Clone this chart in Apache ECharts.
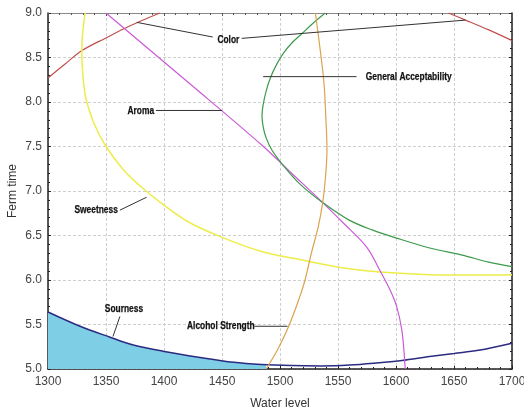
<!DOCTYPE html>
<html>
<head>
<meta charset="utf-8">
<script src="https://cdn.jsdelivr.net/npm/echarts@6/dist/echarts.min.js"></script>
<style>
html,body{margin:0;padding:0;background:#fff;}
#chart{width:524px;height:411px;}
</style>
</head>
<body>
<div id="chart"></div>
<script>
// ---- data (Water level, Ferm time) ----
var xTicks = [1300, 1350, 1400, 1450, 1500, 1550, 1600, 1650, 1700];
var yTicks = [5.0, 5.5, 6.0, 6.5, 7.0, 7.5, 8.0, 8.5, 9.0];

var colorArcA = [[1300,8.27],[1315,8.43],[1329,8.576],[1350,8.72],[1365,8.82],[1380,8.91],[1396.5,9.0]];
var colorArcB = [[1645,9.0],[1660,8.92],[1680,8.81],[1700,8.69]];

var sweetness = [[1332,9.0],[1330.5,8.85],[1329.5,8.7],[1329.2,8.55],[1329.8,8.35],[1331,8.18],[1333,8.02],[1340,7.75],[1350,7.5],[1365,7.24],[1380,7.05],[1396,6.88],[1420,6.66],[1448,6.49],[1484,6.32],[1517,6.23],[1552,6.14],[1586,6.09],[1629,6.06],[1665,6.055],[1700,6.06]];

var aroma = [[1350,9.0],[1420,8.23],[1484,7.52],[1510,7.2],[1536.8,6.87],[1554.6,6.64],[1574.7,6.37],[1586,6.11],[1594.8,5.89],[1600.6,5.70],[1605,5.44],[1607,5.18],[1607.8,5.03],[1608,5.0]];

var acceptability = [[1539,9.0],[1528,8.88],[1519,8.77],[1510,8.66],[1503,8.55],[1497,8.42],[1492,8.28],[1488,8.12],[1485.5,7.97],[1484.5,7.85],[1485.5,7.72],[1488,7.6],[1493,7.46],[1502,7.3],[1517,7.08],[1536.8,6.87],[1560,6.67],[1580,6.56],[1600.6,6.47],[1629,6.36],[1657,6.28],[1680,6.2],[1700,6.15]];

var alcohol = [[1530.5,9.0],[1534.7,8.58],[1538,8.2],[1539.5,7.83],[1540.5,7.46],[1539,7.12],[1536.8,6.87],[1533,6.6],[1527,6.30],[1521.6,6.0],[1517,5.81],[1507.5,5.48],[1498,5.22],[1490,5.04],[1488,5.0]];

var sourness = [[1300,5.64],[1327.6,5.48],[1353,5.36],[1373.5,5.27],[1399,5.20],[1431,5.13],[1460,5.075],[1484,5.05],[1510,5.038],[1535,5.035],[1560,5.045],[1585,5.07],[1605,5.095],[1629,5.14],[1650,5.175],[1671,5.21],[1700,5.29]];
var sournessFill = [[1300,5.64],[1327.6,5.48],[1353,5.36],[1373.5,5.27],[1399,5.20],[1431,5.13],[1460,5.075],[1484,5.05],[1488,5.048]];

var labelNames = ['Color','General Acceptability','Aroma','Sweetness','Sourness','Alcohol Strength'];

var chart = echarts.init(document.getElementById('chart'));
var lblFont = 'Liberation Sans, Arial';
var axFont = 'Liberation Sans, Arial';

function lineSeries(name, data, color, extra) {
  var s = {
    type: 'line', name: name, data: data, showSymbol: false, symbol: 'none',
    smooth: 0.35, lineStyle: {color: color, width: 1.2}, z: 3, silent: true
  };
  if (extra) for (var k in extra) s[k] = extra[k];
  return s;
}

chart.setOption({
  animation: false,
  backgroundColor: '#fff',
  grid: {left: 48, right: 12, top: 13, bottom: 42, outerBoundsMode: 'none', containLabel: false},
  xAxis: [{
    type: 'value', min: 1300, max: 1700, interval: 50,
    name: 'Water level', nameLocation: 'middle', nameGap: 29,
    nameTextStyle: {color: '#333', fontSize: 12, fontFamily: axFont},
    axisLine: {show: true, onZero: false, lineStyle: {color: '#222', width: 1.5}},
    axisTick: {show: true, inside: true, length: 3, lineStyle: {color: '#222'}},
    minorTick: {show: true, splitNumber: 5, length: 2, lineStyle: {color: '#222'}},
    axisLabel: {color: '#444', fontSize: 12, margin: 7, fontFamily: axFont,
      formatter: function (v) { return String(v); }},
    splitLine: {show: true, lineStyle: {color: '#cfcfcf', type: [3,2], width: 1}}
  }, {
    type: 'value', min: 1300, max: 1700, interval: 50, position: 'top',
    axisLine: {show: true, onZero: false, lineStyle: {color: '#888', width: 1}},
    axisTick: {show: true, inside: true, length: 3, lineStyle: {color: '#555'}},
    minorTick: {show: true, splitNumber: 5, length: 2, lineStyle: {color: '#555'}},
    axisLabel: {show: false}, splitLine: {show: false}
  }],
  yAxis: [{
    type: 'value', min: 5, max: 9, interval: 0.5,
    name: 'Ferm time', nameLocation: 'middle', nameGap: 29, nameMoveOverlap: false,
    nameTextStyle: {color: '#333', fontSize: 12, fontFamily: axFont},
    axisLine: {show: true, onZero: false, lineStyle: {color: '#222', width: 1.5}},
    axisTick: {show: true, inside: true, length: 3, lineStyle: {color: '#222'}},
    minorTick: {show: true, splitNumber: 5, length: 2, lineStyle: {color: '#222'}},
    axisLabel: {color: '#444', fontSize: 12, margin: 6, fontFamily: axFont,
      formatter: function (v) { return v.toFixed(1); }},
    splitLine: {show: true, lineStyle: {color: '#cfcfcf', type: [3,2], width: 1}}
  }, {
    type: 'value', min: 5, max: 9, interval: 0.5, position: 'right',
    axisLine: {show: true, onZero: false, lineStyle: {color: '#222', width: 1.5}},
    axisTick: {show: true, inside: true, length: 3, lineStyle: {color: '#222'}},
    minorTick: {show: true, splitNumber: 5, length: 2, lineStyle: {color: '#222'}},
    axisLabel: {show: false}, splitLine: {show: false}
  }],
  series: [
    lineSeries('Sourness fill', sournessFill, '#7ecfe6', {
      lineStyle: {width: 0}, areaStyle: {color: '#7ecfe6', opacity: 1, origin: 'start'}, z: 1
    }),
    lineSeries('Sourness', sourness, '#2b2b82', {lineStyle: {color: '#2b2b82', width: 1.5}}),
    lineSeries('Color', colorArcA, '#c0504d'),
    lineSeries('Color', colorArcB, '#c0504d'),
    lineSeries('Sweetness', sweetness, '#eded4a', {lineStyle: {color: '#eded4a', width: 1.5}}),
    lineSeries('Aroma', aroma, '#cc5ad8'),
    lineSeries('General Acceptability', acceptability, '#3c9a4c'),
    lineSeries('Alcohol Strength', alcohol, '#dca24e')
  ]
});

// annotations: positions given in data units, converted through the chart scales
var annotations = [
  {text: labelNames[0], at: [1455.5, 8.7], lines: [[[1442, 8.73], [1376.5, 8.895]], [[1467, 8.715], [1659.7, 8.92]]]},
  {text: labelNames[1], at: [1611, 8.28], lines: [[[1566, 8.285], [1485.5, 8.285]]]},
  {text: labelNames[2], at: [1380, 7.9], lines: [[[1393, 7.905], [1450, 7.905]]]},
  {text: labelNames[3], at: [1341.5, 6.785], lines: [[[1362, 6.785], [1385, 6.93]]]},
  {text: labelNames[4], at: [1365.5, 5.675], lines: [[[1362, 5.59], [1356, 5.365]]]},
  {text: labelNames[5], at: [1449, 5.48], lines: [[[1478, 5.48], [1506.5, 5.48]]]}
];
var graphics = [];
annotations.forEach(function (a) {
  var p = chart.convertToPixel({xAxisIndex: 0, yAxisIndex: 0}, a.at);
  graphics.push({type: 'text', x: p[0], y: p[1], z: 10, scaleX: 0.8,
    style: {text: a.text, fill: '#111', font: 'bold 10.5px ' + lblFont, textAlign: 'center', textVerticalAlign: 'middle',
      stroke: '#111', lineWidth: 0.25}});
  a.lines.forEach(function (seg) {
    var p1 = chart.convertToPixel({xAxisIndex: 0, yAxisIndex: 0}, seg[0]);
    var p2 = chart.convertToPixel({xAxisIndex: 0, yAxisIndex: 0}, seg[1]);
    graphics.push({type: 'line', z: 9, shape: {x1: p1[0], y1: p1[1], x2: p2[0], y2: p2[1]},
      style: {stroke: '#333', lineWidth: 1}});
  });
});
chart.setOption({graphic: graphics});
</script>
</body>
</html>
